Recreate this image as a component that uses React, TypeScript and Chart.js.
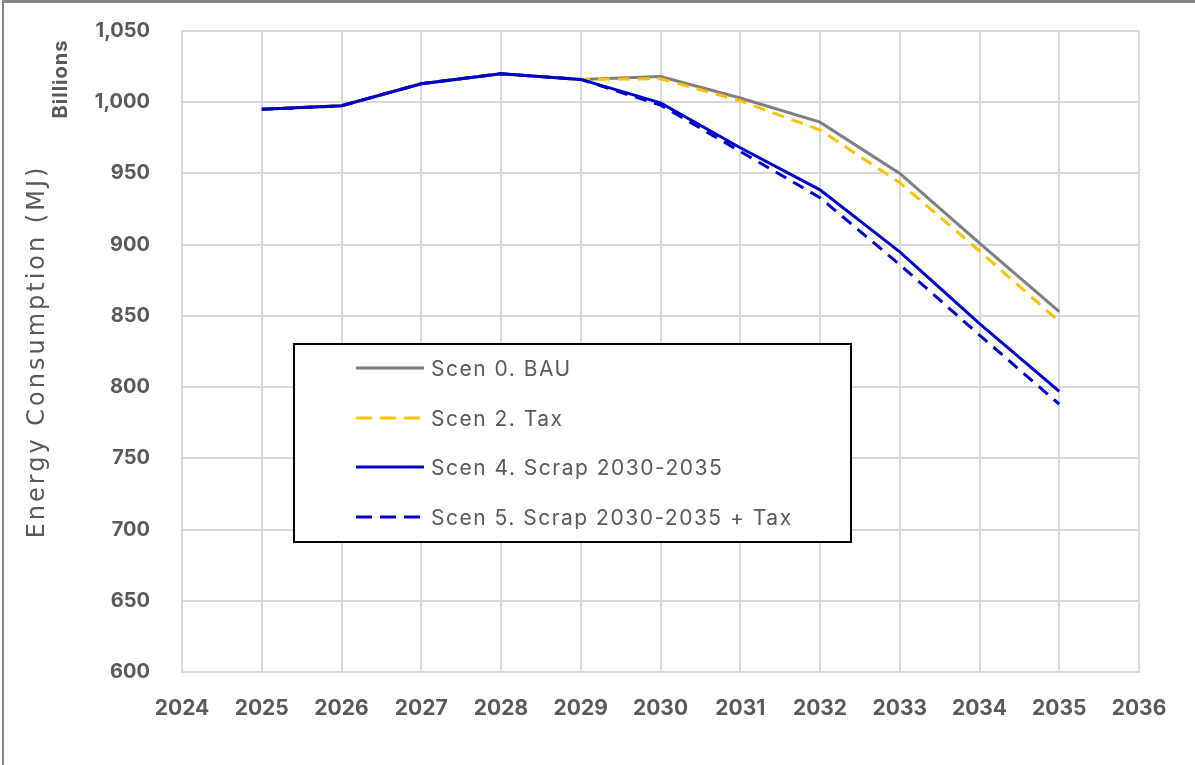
import React, { useEffect, useRef } from "react";
import { Chart, registerables } from "chart.js";

Chart.register(...registerables);

// Years on the horizontal axis and the scenario series (MJ, billions)
const years = [2025, 2026, 2027, 2028, 2029, 2030, 2031, 2032, 2033, 2034, 2035];
const scen0Bau = [995, 997.5, 1013, 1020, 1016, 1018, 1003, 986, 950, 901, 853];
const scen2Tax = [995, 997.5, 1013, 1020, 1016, 1016.5, 1001, 980.5, 943.5, 895.5, 846];
const scen4Scrap = [995, 997.5, 1013, 1020, 1016, 999.5, 968, 938.5, 895, 844.5, 797];
const scen5ScrapTax = [995, 997.5, 1013, 1020, 1016, 998, 965.5, 933, 886, 836.5, 788];

const seriesNames = [
  "Scen 0. BAU",
  "Scen 2. Tax",
  "Scen 4. Scrap 2030-2035",
  "Scen 5. Scrap 2030-2035 + Tax",
];

const xMin = 2024;
const xMax = 2036;
const yMin = 600;
const yMax = 1050;
const yStep = 50;

const yTitle = "Energy Consumption (MJ)";
const yUnit = "Billions";

const TEXT = "#595959";
const GRID = "#d9d9d9";

const toPoints = (vals: number[]) => years.map((x, i) => ({ x, y: vals[i] }));

// Frame, axis captions and the boxed legend inside the plot
const decorations = {
  id: "decorations",
  beforeDraw(chart: any) {
    const ctx = chart.ctx;
    ctx.save();
    ctx.fillStyle = "#ffffff";
    ctx.fillRect(0, 0, chart.width, chart.height);
    ctx.restore();
  },
  afterDraw(chart: any) {
    const ctx = chart.ctx;
    const area = chart.chartArea;
    ctx.save();

    // outer frame (top and left edges)
    ctx.fillStyle = "#858585";
    ctx.fillRect(2, 0, chart.width - 2, 3);
    ctx.fillRect(2, 0, 2, chart.height);

    // axis title
    ctx.fillStyle = TEXT;
    ctx.textAlign = "center";
    ctx.textBaseline = "middle";
    ctx.save();
    ctx.translate(38, (area.top + area.bottom) / 2);
    ctx.rotate(-Math.PI / 2);
    ctx.font = "24px 'DejaVu Sans'";
    (ctx as any).letterSpacing = "3px";
    ctx.fillText(yTitle, 0, 0);
    ctx.restore();

    // unit caption
    ctx.save();
    ctx.translate(61, 79);
    ctx.rotate(-Math.PI / 2);
    ctx.font = "bold 20px Inter";
    (ctx as any).letterSpacing = "1px";
    ctx.fillText(yUnit, 0, 0);
    ctx.restore();

    // legend box
    const bx = 294, by = 344, bw = 557, bh = 198;
    ctx.fillStyle = "#ffffff";
    ctx.fillRect(bx, by, bw, bh);
    ctx.strokeStyle = "#000000";
    ctx.lineWidth = 2;
    ctx.strokeRect(bx, by, bw, bh);

    const rowY = [368, 418, 467, 517];
    chart.data.datasets.forEach((ds: any, i: number) => {
      const y = rowY[i];
      ctx.save();
      ctx.strokeStyle = ds.borderColor;
      ctx.lineWidth = 3;
      ctx.lineCap = "butt";
      ctx.setLineDash(ds.borderDash && ds.borderDash.length ? [16, 8] : []);
      ctx.beginPath();
      ctx.moveTo(356, y);
      ctx.lineTo(424, y);
      ctx.stroke();
      ctx.restore();

      ctx.save();
      ctx.fillStyle = TEXT;
      ctx.font = "21px Inter";
      (ctx as any).letterSpacing = "1.5px";
      ctx.textAlign = "left";
      ctx.textBaseline = "middle";
      ctx.fillText(ds.label, 431, y + 2);
      ctx.restore();
    });

    ctx.restore();
  },
};

export default function App() {
  const canvasRef = useRef<HTMLCanvasElement | null>(null);

  useEffect(() => {
    const canvas = canvasRef.current;
    if (!canvas) return;

    const chart = new Chart(canvas, {
      type: "line",
      data: {
        datasets: [
          {
            label: seriesNames[0],
            data: toPoints(scen0Bau),
            borderColor: "#7f7f7f",
            borderWidth: 3,
            borderDash: [],
            order: 3,
          },
          {
            label: seriesNames[1],
            data: toPoints(scen2Tax),
            borderColor: "#ffc000",
            borderWidth: 3,
            borderDash: [12, 8],
            order: 2,
          },
          {
            label: seriesNames[2],
            data: toPoints(scen4Scrap),
            borderColor: "#0000cc",
            borderWidth: 3,
            borderDash: [],
            order: 0,
          },
          {
            label: seriesNames[3],
            data: toPoints(scen5ScrapTax),
            borderColor: "#0000cc",
            borderWidth: 3,
            borderDash: [12, 8],
            order: 1,
          },
        ],
      },
      options: {
        responsive: false,
        animation: false,
        devicePixelRatio: 1,
        elements: {
          point: { radius: 0, hoverRadius: 0 },
          line: { tension: 0, borderCapStyle: "butt" },
        },
        layout: { padding: { left: 0, top: 31, right: 56, bottom: 0 } },
        plugins: {
          legend: { display: false },
          tooltip: { enabled: false },
          title: { display: false },
        },
        scales: {
          x: {
            type: "linear",
            min: xMin,
            max: xMax,
            afterFit: (scale: any) => {
              scale.height = 93;
            },
            grid: { color: GRID, lineWidth: 2, drawTicks: false },
            border: { color: GRID, width: 2 },
            ticks: {
              stepSize: 1,
              padding: 24,
              color: TEXT,
              font: { family: "Inter", size: 21, weight: "bold" },
              callback: (v: any) => String(v),
            },
          },
          y: {
            type: "linear",
            min: yMin,
            max: yMax,
            afterFit: (scale: any) => {
              scale.width = 182;
              scale.paddingTop = 0;
              scale.paddingBottom = 0;
            },
            grid: { color: GRID, lineWidth: 2, drawTicks: false },
            border: { color: GRID, width: 2 },
            ticks: {
              stepSize: yStep,
              padding: 32,
              color: TEXT,
              font: { family: "Inter", size: 20, weight: "bold" },
              callback: (v: any) => Number(v).toLocaleString("en-US"),
            },
          },
        },
      },
      plugins: [decorations],
    });

    return () => chart.destroy();
  }, []);

  return (
    <div style={{ position: "absolute", left: 0, top: 0, width: 1195, height: 765 }}>
      <canvas ref={canvasRef} width={1195} height={765} style={{ display: "block" }} />
    </div>
  );
}
